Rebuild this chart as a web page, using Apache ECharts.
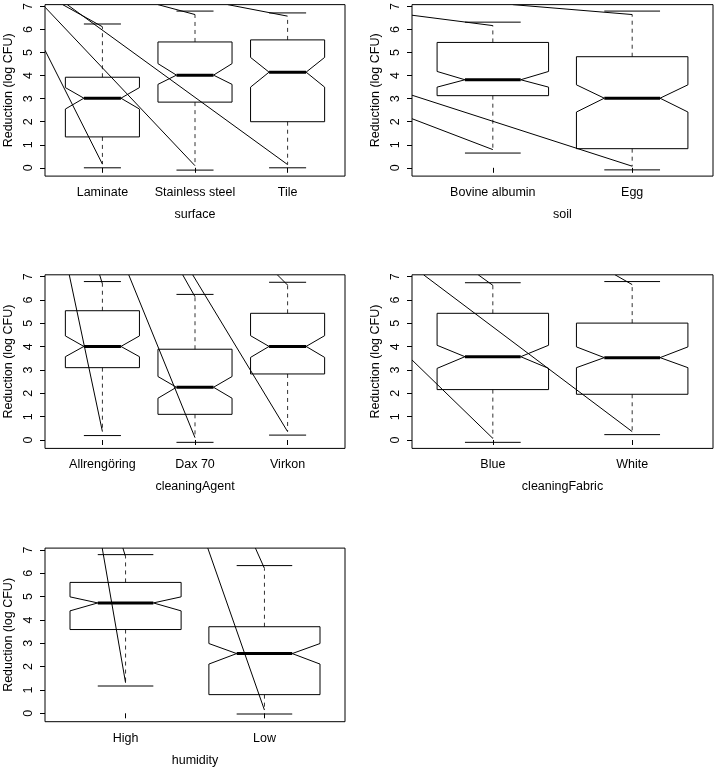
<!DOCTYPE html>
<html>
<head>
<meta charset="utf-8">
<script src="https://cdn.jsdelivr.net/npm/echarts@6.0.0/dist/echarts.min.js"></script>
<style>
html,body{margin:0;padding:0;background:#fff;}
#chart{width:716px;height:768px;}
</style>
</head>
<body>
<div id="chart"></div>
<script>
// ---------- DATA ----------
const yTicks = [0, 1, 2, 3, 4, 5, 6, 7];
const yTitle = 'Reduction (log CFU)';

// Panel 1: surface
const surfaceCategories = ['Laminate', 'Stainless steel', 'Tile'];
const surfaceCapLow     = [0.0, -0.1, 0.0];
const surfaceWhiskerLow = [0.16, 0.09, 0.14];
const surfaceQ1         = [1.34, 2.85, 2.0];
const surfaceNotchLow   = [2.55, 3.62, 3.5];
const surfaceMedian     = [3.02, 4.02, 4.15];
const surfaceNotchHigh  = [3.48, 4.52, 4.79];
const surfaceQ3         = [3.93, 5.46, 5.55];
const surfaceWhiskerHigh= [6.12, 6.65, 6.58];
const surfaceCapHigh    = [6.24, 6.8, 6.72];
const surfaceSegments   = [[0.38, 5.1, 1, 0.16], [0.38, 6.97, 2, 0.09], [0.571, 7.08, 1, 6.12],
                           [0.62, 7.08, 3, 0.14], [1.6, 7.08, 2, 6.65], [2.354, 7.08, 3, 6.58]];

// Panel 2: soil
const soilCategories = ['Bovine albumin', 'Egg'];
const soilCapLow     = [0.64, -0.09];
const soilWhiskerLow = [0.79, 0.07];
const soilQ1         = [3.13, 0.83];
const soilNotchLow   = [3.5, 2.42];
const soilMedian     = [3.82, 3.02];
const soilNotchHigh  = [4.18, 3.6];
const soilQ3         = [5.44, 4.82];
const soilWhiskerHigh= [6.17, 6.65];
const soilCapHigh    = [6.32, 6.8];
const soilSegments   = [[0.42, 6.62, 1, 6.17], [1.143, 7.08, 2, 6.65], [0.42, 3.15, 2, 0.07], [0.42, 2.13, 1, 0.79]];

// Panel 3: cleaningAgent
const agentCategories = ['Allrengöring', 'Dax 70', 'Virkon'];
const agentCapLow     = [0.19, -0.1, 0.21];
const agentWhiskerLow = [0.36, 0.1, 0.36];
const agentQ1         = [3.1, 1.1, 2.83];
const agentNotchLow   = [3.57, 1.79, 3.54];
const agentMedian     = [4.01, 2.26, 4.01];
const agentNotchHigh  = [4.46, 2.72, 4.47];
const agentQ3         = [5.54, 3.89, 5.43];
const agentWhiskerHigh= [6.69, 6.14, 6.64];
const agentCapHigh    = [6.79, 6.24, 6.76];
const agentSegments   = [[0.642, 7.08, 1, 0.36], [0.97, 7.08, 1, 6.69], [1.284, 7.08, 2, 0.1],
                         [1.867, 7.08, 2, 6.14], [1.975, 7.08, 3, 0.36], [2.889, 7.08, 3, 6.64]];

// Panel 4: cleaningFabric
const fabricCategories = ['Blue', 'White'];
const fabricCapLow     = [-0.1, 0.23];
const fabricWhiskerLow = [0.07, 0.36];
const fabricQ1         = [2.16, 1.96];
const fabricNotchLow   = [3.07, 3.1];
const fabricMedian     = [3.57, 3.53];
const fabricNotchHigh  = [4.06, 3.99];
const fabricQ3         = [5.43, 5.01];
const fabricWhiskerHigh= [6.63, 6.66];
const fabricCapHigh    = [6.74, 6.79];
const fabricSegments   = [[0.42, 3.43, 1, 0.07], [0.503, 7.08, 2, 0.36], [0.895, 7.08, 1, 6.63], [1.877, 7.08, 2, 6.66]];

// Panel 5: humidity
const humidityCategories = ['High', 'Low'];
const humidityCapLow     = [1.17, -0.03];
const humidityWhiskerLow = [1.31, 0.14];
const humidityQ1         = [3.59, 0.8];
const humidityNotchLow   = [4.39, 2.11];
const humidityMedian     = [4.73, 2.56];
const humidityNotchHigh  = [4.99, 2.99];
const humidityQ3         = [5.61, 3.71];
const humidityWhiskerHigh= [6.71, 6.21];
const humidityCapHigh    = [6.8, 6.33];
const humiditySegments   = [[0.832, 7.08, 1, 1.31], [0.981, 7.08, 1, 6.71], [1.592, 7.08, 2, 0.14], [1.935, 7.08, 2, 6.21]];

// ---------- BUILD ----------
function rows(cats, capLo, whLo, q1, nLo, med, nHi, q3, whHi, capHi) {
  return cats.map((c, i) => [i + 1, capLo[i], whLo[i], q1[i], nLo[i], med[i], nHi[i], q3[i], whHi[i], capHi[i]]);
}

const panels = [
  { name: 'surface', cats: surfaceCategories, segs: surfaceSegments,
    box: rows(surfaceCategories, surfaceCapLow, surfaceWhiskerLow, surfaceQ1, surfaceNotchLow, surfaceMedian, surfaceNotchHigh, surfaceQ3, surfaceWhiskerHigh, surfaceCapHigh),
    grid: { left: 45, top: 2.8, width: 300, height: 173.3 } },
  { name: 'soil', cats: soilCategories, segs: soilSegments,
    box: rows(soilCategories, soilCapLow, soilWhiskerLow, soilQ1, soilNotchLow, soilMedian, soilNotchHigh, soilQ3, soilWhiskerHigh, soilCapHigh),
    grid: { left: 412, top: 2.8, width: 301, height: 173.3 } },
  { name: 'cleaningAgent', cats: agentCategories, segs: agentSegments,
    box: rows(agentCategories, agentCapLow, agentWhiskerLow, agentQ1, agentNotchLow, agentMedian, agentNotchHigh, agentQ3, agentWhiskerHigh, agentCapHigh),
    grid: { left: 45, top: 274.8, width: 300, height: 173.6 } },
  { name: 'cleaningFabric', cats: fabricCategories, segs: fabricSegments,
    box: rows(fabricCategories, fabricCapLow, fabricWhiskerLow, fabricQ1, fabricNotchLow, fabricMedian, fabricNotchHigh, fabricQ3, fabricWhiskerHigh, fabricCapHigh),
    grid: { left: 412, top: 274.8, width: 301, height: 173.6 } },
  { name: 'humidity', cats: humidityCategories, segs: humiditySegments,
    box: rows(humidityCategories, humidityCapLow, humidityWhiskerLow, humidityQ1, humidityNotchLow, humidityMedian, humidityNotchHigh, humidityQ3, humidityWhiskerHigh, humidityCapHigh),
    grid: { left: 45, top: 548.1, width: 300, height: 173.6 } }
];

const FONT = "'Liberation Sans', Arial, Helvetica, sans-serif";
const FS = 12.5;
const INK = '#000';

function boxRender(params, api) {
  const x = api.value(0);
  const capLo = api.value(1), whLo = api.value(2), q1 = api.value(3), nLo = api.value(4),
        med = api.value(5), nHi = api.value(6), q3 = api.value(7), whHi = api.value(8), capHi = api.value(9);
  const c = (a, b) => api.coord([a, b]);
  const hw = 0.4, nw = 0.2, sw = 0.2;
  const poly = [c(x - hw, q1), c(x - hw, nLo), c(x - nw, med), c(x - hw, nHi), c(x - hw, q3),
                c(x + hw, q3), c(x + hw, nHi), c(x + nw, med), c(x + hw, nLo), c(x + hw, q1)];
  const line = (p1, p2, st) => ({ type: 'line', shape: { x1: p1[0], y1: p1[1], x2: p2[0], y2: p2[1] }, style: st });
  const solid = { stroke: INK, lineWidth: 1 };
  const dash = { stroke: '#333', lineWidth: 1, lineDash: [4, 4] };
  return {
    type: 'group',
    children: [
      line(c(x, q3), c(x, whHi), dash),
      line(c(x, q1), c(x, whLo), dash),
      line(c(x - sw, capHi), c(x + sw, capHi), solid),
      line(c(x - sw, capLo), c(x + sw, capLo), solid),
      { type: 'polygon', shape: { points: poly }, style: { fill: 'rgba(255,255,255,0)', stroke: INK, lineWidth: 1 } },
      line(c(x - nw, med), c(x + nw, med), { stroke: INK, lineWidth: 3 })
    ]
  };
}

function segRender(params, api) {
  const p1 = api.coord([api.value(0), api.value(1)]);
  const p2 = api.coord([api.value(2), api.value(3)]);
  return { type: 'line', shape: { x1: p1[0], y1: p1[1], x2: p2[0], y2: p2[1] }, style: { stroke: INK, lineWidth: 1 } };
}

const option = {
  animation: false,
  backgroundColor: '#fff',
  textStyle: { fontFamily: FONT, color: INK },
  grid: [], xAxis: [], yAxis: [], series: []
};

panels.forEach((p, i) => {
  const n = p.cats.length;
  const pad = 0.04 * n;
  option.grid.push(Object.assign({ show: true, borderColor: INK, borderWidth: 1, backgroundColor: 'transparent', containLabel: false }, p.grid));
  const catTicks = p.cats.map((c, k) => k + 1);
  option.xAxis.push({
    type: 'value', gridIndex: i, min: 0.5 - pad, max: n + 0.5 + pad,
    name: p.name, nameLocation: 'middle', nameGap: 32,
    nameTextStyle: { fontFamily: FONT, fontSize: FS, color: INK },
    axisLine: { show: false },
    splitLine: { show: false },
    axisTick: { show: true, length: 5, customValues: catTicks, lineStyle: { color: INK, width: 1 } },
    axisLabel: { show: true, customValues: catTicks, margin: 10, fontFamily: FONT, fontSize: FS, color: INK,
                 formatter: v => p.cats[Math.round(v) - 1] || '' }
  });
  option.yAxis.push({
    type: 'value', gridIndex: i, min: -0.36, max: 7.08,
    name: yTitle, nameLocation: 'middle', nameGap: 30, nameRotate: 90,
    nameTextStyle: { fontFamily: FONT, fontSize: FS, color: INK },
    axisLine: { show: false },
    splitLine: { show: false },
    axisTick: { show: true, length: 5, customValues: yTicks, lineStyle: { color: INK, width: 1 } },
    axisLabel: { show: true, customValues: yTicks, rotate: 90, margin: 10, fontFamily: FONT, fontSize: FS, color: INK }
  });
  option.series.push({
    type: 'custom', xAxisIndex: i, yAxisIndex: i, clip: true,
    renderItem: boxRender, data: p.box, silent: true
  });
  option.series.push({
    type: 'custom', xAxisIndex: i, yAxisIndex: i, clip: true,
    renderItem: segRender, data: p.segs, silent: true
  });
});

const chart = echarts.init(document.getElementById('chart'), null, { renderer: 'canvas' });
chart.setOption(option);
</script>
</body>
</html>
